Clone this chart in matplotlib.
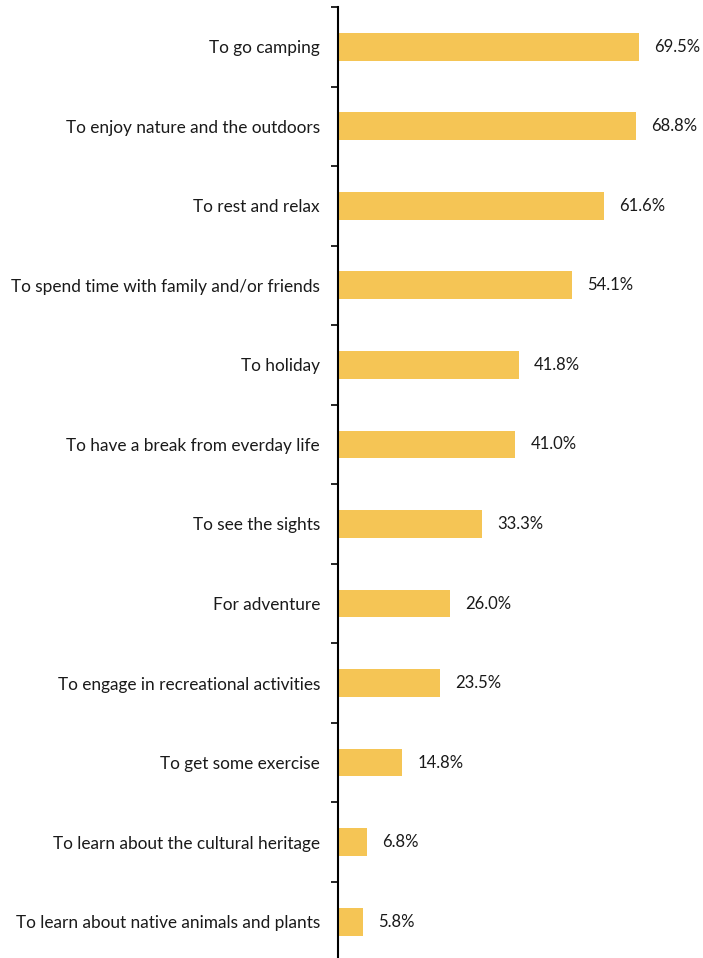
import matplotlib.pyplot as plt

reasons = [
    "To go camping",
    "To enjoy nature and the outdoors",
    "To rest and relax",
    "To spend time with family and/or friends",
    "To holiday",
    "To have a break from everday life",
    "To see the sights",
    "For adventure",
    "To engage in recreational activities",
    "To get some exercise",
    "To learn about the cultural heritage",
    "To learn about native animals and plants",
]
shares = [69.5, 68.8, 61.6, 54.1, 41.8, 41.0, 33.3, 26.0, 23.5, 14.8, 6.8, 5.8]

plt.rcParams["font.family"] = ["Lato", "DejaVu Sans"]

fig = plt.figure(figsize=(7.03, 9.58), dpi=100)
ax = fig.add_axes([338 / 703, -3.4 / 958, 346 / 703, 954.4 / 958])

pos = list(range(len(reasons)))
ax.barh(pos, shares, height=0.35, color="#F5C555")

for y, v in zip(pos, shares):
    ax.text(v + 3.5, y, f"{v:.1f}%", va="center", ha="left", fontsize=12, color="#1a1a1a")

ax.set_xlim(0, 80)
ax.set_ylim(len(reasons) - 0.5, -0.5)

# tick marks at category boundaries, labels at centres
ax.set_yticks([i - 0.5 for i in range(len(reasons) + 1)])
ax.set_yticklabels([])
ax.tick_params(axis="y", which="major", length=5, width=1.2, direction="out", color="black")
ax.set_yticks(pos, minor=True)
ax.set_yticklabels(reasons, minor=True, fontsize=12.4, color="#1a1a1a")
ax.tick_params(axis="y", which="minor", length=0, pad=13)

ax.set_xticks([])
for s in ["top", "right", "bottom"]:
    ax.spines[s].set_visible(False)
ax.spines["left"].set_linewidth(1.5)

fig.savefig("out.png", dpi=100)
